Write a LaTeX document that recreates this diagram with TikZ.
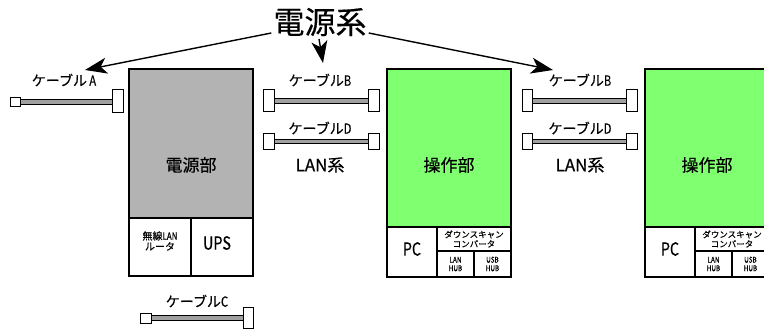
\documentclass[tikz,border=0pt]{standalone}
\usepackage{fontspec}
\setmainfont{Noto Sans CJK JP}[FakeBold=0.4]
\newfontfamily\narrow[FakeStretch=0.8,FakeBold=0.4]{Noto Sans CJK JP}
\usetikzlibrary{arrows.meta}
\definecolor{boxgray}{RGB}{179,179,179}
\definecolor{boxgreen}{RGB}{128,255,112}
\definecolor{cablegray}{RGB}{160,160,160}
\tikzset{
  unit/.style={draw=black,line width=1.2pt},
  conn/.style={draw=black,line width=0.8pt,fill=white},
  band/.style={draw=black,line width=0.8pt,fill=cablegray},
  lbl/.style={inner sep=0pt,font=\fontsize{14}{15}\selectfont},
  big/.style={inner sep=0pt,font=\fontsize{17}{18}\selectfont},
  ptr/.style={line width=1.4pt,-{Stealth[length=22pt,width=16pt,inset=6pt]}},
}
\begin{document}
\begin{tikzpicture}[x=1pt,y=-1pt]
\useasboundingbox (0,0) rectangle (764,329);
\clip (0,0) rectangle (764,329);

% ---- power unit ----
\fill[boxgray] (129,69) rectangle (253,218);
\fill[white] (129,218) rectangle (253,276);
\draw[unit] (129,69) rectangle (253,276);
\draw[unit] (129,218) -- (253,218) (191,218) -- (191,276);
\node[big] (psu) at (191,165) {電源部};
\node[inner sep=0pt,align=center,font=\fontsize{10}{10.5}\selectfont] (router) at (160,241) {無線{\narrow LAN}\\ルータ};
\node[inner sep=0pt,font=\narrow\fontsize{18}{18}\selectfont] (ups) at (217,243) {UPS};

% ---- operation units ----
\foreach \ox/\nm in {387/opa,645/opb}{
  \begin{scope}[shift={(\ox,0)}]
    \fill[boxgreen] (0,69) rectangle (124,227);
    \fill[white] (0,227) rectangle (124,277);
    \draw[unit] (0,69) rectangle (124,277);
    \draw[unit] (0,227) -- (124,227) (50,227) -- (50,277) (50,251) -- (124,251) (87,251) -- (87,277);
    \node[big] (\nm) at (62,165) {操作部};
    \node[inner sep=0pt,font=\narrow\fontsize{18}{18}\selectfont] (\nm pc) at (25,249) {PC};
    \node[inner sep=0pt,align=center,font=\fontsize{8.5}{9.5}\selectfont] (\nm dsc) at (87,239) {ダウンスキャン\\コンバータ};
    \node[inner sep=0pt,align=center,font=\narrow\fontsize{8}{8.5}\selectfont] (\nm lan) at (68.5,264) {LAN\\HUB};
    \node[inner sep=0pt,align=center,font=\narrow\fontsize{8}{8.5}\selectfont] (\nm usb) at (105.5,264) {USB\\HUB};
  \end{scope}
}

% ---- cables ----
% cable A
\draw[band] (20,99) rectangle (112,104);
\draw[conn] (10,97) rectangle (20,106);
\draw[conn] (112,89) rectangle (123,112);
\node[lbl] (cabA) at (64,80) {ケーブル{\narrow\,A}};
% cable C
\draw[band] (151,315) rectangle (243,320);
\draw[conn] (140,313) rectangle (151,323);
\draw[conn] (243,307) rectangle (253,328);
\node[lbl] (cabC) at (197,301) {ケーブル{\narrow C}};
% cables B, D
\foreach \ax/\bx/\cx/\k in {263/274/368/1,522/532/626/2}{
  \draw[band] (\bx,98) rectangle (\cx,103);
  \draw[conn] (\ax,89) rectangle (\bx,111);
  \draw[conn] (\cx,89) rectangle ({\cx+11},111);
  \draw[band] (\bx,139) rectangle (\cx,143);
  \draw[conn] (\ax,133) rectangle (\bx,149);
  \draw[conn] (\cx,133) rectangle ({\cx+11},149);
}
\node[lbl] (cabB1) at (320,80) {ケーブル{\narrow B}};
\node[lbl] (cabD1) at (320,128) {ケーブル{\narrow D}};
\node[big] (lan1) at (320,165) {LAN系};
\node[lbl] (cabB2) at (580,80) {ケーブル{\narrow B}};
\node[lbl] (cabD2) at (580,128) {ケーブル{\narrow D}};
\node[big] (lan2) at (580,165) {LAN系};

% ---- power system label and arrows ----
\node[inner sep=0pt,font=\fontsize{31}{32}\selectfont] (pwr) at (320,22) {電源系};
\coordinate (tipA) at (85,70);
\coordinate (tipB) at (323,63);
\coordinate (tipC) at (553,70);
\draw[ptr] (pwr.west |- 0,33) ++(-2,0) -- (tipA);
\draw[ptr] (319,39) -- (tipB);
\draw[ptr] (pwr.east |- 0,33) ++(2,0) -- (tipC);
\end{tikzpicture}
\end{document}
